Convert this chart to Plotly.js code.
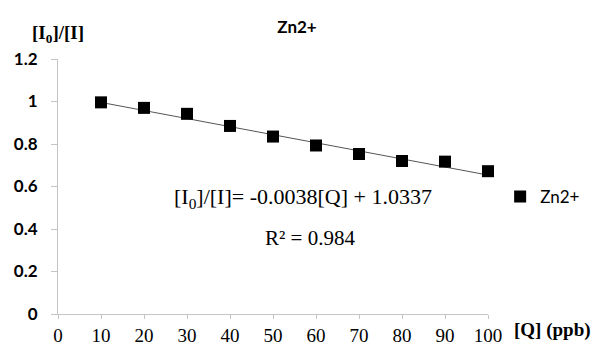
<!DOCTYPE html>
<html><head><meta charset="utf-8">
<script src="https://cdn.plot.ly/plotly-3.0.1.min.js"></script>
<style>html,body{margin:0;padding:0;background:#fff}#c{width:594px;height:345px}</style>
</head><body><div id="c"></div>
<script>
const conc = [10, 20, 30, 40, 50, 60, 70, 80, 90, 100];
const ratio = [0.996, 0.970, 0.942, 0.885, 0.835, 0.793, 0.753, 0.720, 0.717, 0.672];
const fitSlope = -0.0038;
const fitIntercept = 1.0337;
const fitX = [10, 100];
const fitY = fitX.map(x => fitIntercept + fitSlope * x);
const xTicks = [0,10,20,30,40,50,60,70,80,90,100];
const yTicks = [0,0.2,0.4,0.6,0.8,1,1.2];

const serif = 'Liberation Serif';
const sans = 'Lato';

const traces = [
  {x: fitX, y: fitY, mode: 'lines', line: {color: '#555', width: 1}, showlegend: false, hoverinfo: 'skip', cliponaxis: false},
  {x: conc, y: ratio, mode: 'markers', name: 'Zn2+', cliponaxis: false, marker: {symbol: 'square', size: 12, color: '#000'}}
];

const layout = {
  width: 594, height: 345,
  margin: {l: 58, r: 106, t: 59, b: 31},
  paper_bgcolor: '#fff', plot_bgcolor: '#fff',
  title: {text: '<b>Zn2+</b>', x: 0.5, xanchor: 'center', y: 0.922, yanchor: 'middle', font: {family: sans, size: 17, color: '#000'}},
  showlegend: true,
  legend: {xref: 'container', yref: 'container', x: 0.842, y: 0.429, xanchor: 'left', yanchor: 'middle',
           font: {family: sans, size: 17, color: '#000'}, itemwidth: 30, bgcolor: 'rgba(0,0,0,0)'},
  xaxis: {
    range: [0, 100], tickvals: xTicks, ticktext: xTicks.map(String),
    showgrid: false, zeroline: false, showline: true, linecolor: '#c4c4c4', linewidth: 1,
    ticks: 'outside', ticklen: 4, tickcolor: '#c4c4c4',
    tickfont: {family: serif, size: 19, color: '#000'}, fixedrange: true
  },
  yaxis: {
    range: [0, 1.2], tickvals: yTicks, ticktext: yTicks.map(String),
    showgrid: false, zeroline: false, showline: true, linecolor: '#c4c4c4', linewidth: 1,
    ticks: 'outside', ticklen: 6, tickcolor: '#c4c4c4', ticklabelstandoff: 10,
    tickfont: {family: sans, size: 17, color: '#000', weight: 'bold'}, fixedrange: true
  },
  annotations: [
    {xref: 'paper', yref: 'paper', x: 1.056, y: -0.064, xanchor: 'left', yanchor: 'middle', showarrow: false,
     text: '<b>[Q] (ppb)</b>', font: {family: serif, size: 19, color: '#000'}},
    {xref: 'paper', yref: 'paper', x: 0.065, y: 1.097, xanchor: 'right', yanchor: 'middle', showarrow: false,
     text: '<b>[I<sub>0</sub>]/[I]</b>', font: {family: serif, size: 19, color: '#000'}},
    {xref: 'x', yref: 'y', x: 56.9, y: 0.546, xanchor: 'center', yanchor: 'middle', showarrow: false,
     text: '[I<sub>0</sub>]/[I]= -0.0038[Q] + 1.0337', font: {family: serif, size: 22, color: '#000'}},
    {xref: 'x', yref: 'y', x: 58.5, y: 0.357, xanchor: 'center', yanchor: 'middle', showarrow: false,
     text: 'R² = 0.984', font: {family: serif, size: 21, color: '#000'}}
  ]
};
Plotly.newPlot('c', traces, layout, {displayModeBar: false, staticPlot: true});
</script></body></html>
